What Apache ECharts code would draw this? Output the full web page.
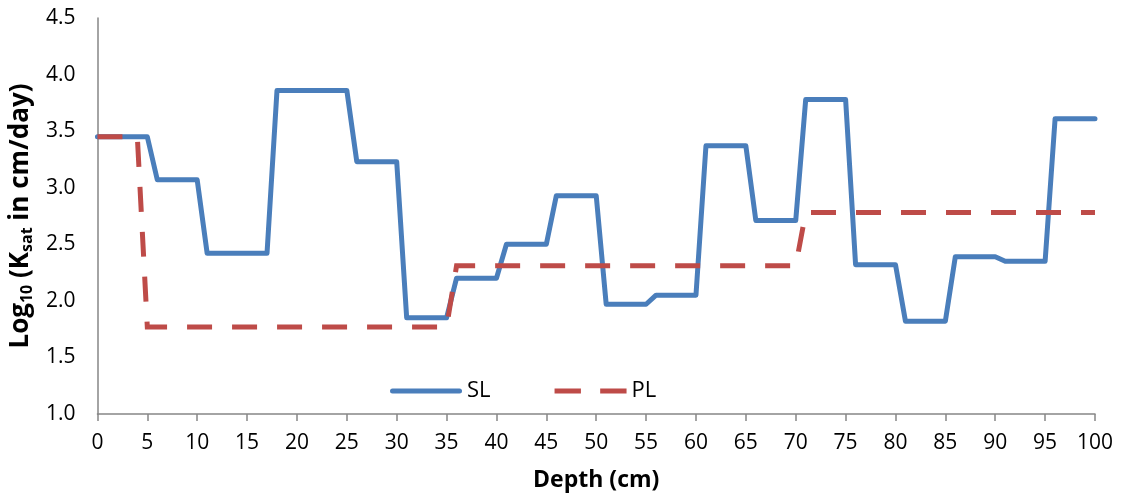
<!DOCTYPE html>
<html>
<head>
<meta charset="utf-8">
<script src="https://cdn.jsdelivr.net/npm/echarts@6/dist/echarts.min.js"></script>
<style>
html,body{margin:0;padding:0;background:#fff;}
#chart{width:1122px;height:497px;}
</style>
</head>
<body>
<div id="chart"></div>
<script>
// Depth breakpoints (cm) and log10(Ksat) values
const slDepth = [0,5,6,10,11,17,18,25,26,30,31,35,36,40,41,45,46,50,51,55,56,60,61,65,66,70,71,75,76,80,81,85,86,90,91,95,96,100];
const slValue = [3.45,3.45,3.07,3.07,2.42,2.42,3.86,3.86,3.23,3.23,1.85,1.85,2.20,2.20,2.50,2.50,2.93,2.93,1.97,1.97,2.05,2.05,3.37,3.37,2.71,2.71,3.78,3.78,2.32,2.32,1.82,1.82,2.39,2.39,2.35,2.35,3.61,3.61];
const plDepth = [0,4,5,35,36,70,71,100];
const plValue = [3.45,3.45,1.77,1.77,2.31,2.31,2.78,2.78];
const seriesNames = ['SL','PL'];
const xTicks = {min:0, max:100, interval:5};
const yTicks = {min:1.0, max:4.5, interval:0.5};

const pairs = (xs, ys) => xs.map((x,i)=>[x, ys[i]]);
const FONT = '"Open Sans", "Liberation Sans", sans-serif';
const axisGray = '#868686';
const SL_COLOR = '#4A7EBB';
const PL_COLOR = '#BE4B48';

const chart = echarts.init(document.getElementById('chart'), null, {renderer:'canvas'});
chart.setOption({
  animation:false,
  backgroundColor:'#ffffff',
  grid:{left:96, right:27, top:18, bottom:75, containLabel:false},
  legend:{
    data:[
      {name:seriesNames[0], icon:'path://M2.5,0h67a2.5,2.5 0 0 1 0,5h-67a2.5,2.5 0 0 1 0,-5z', itemStyle:{color:SL_COLOR}},
      {name:seriesNames[1], icon:'path://M0,0h26v5h-26z M45,0h26v5h-26z', itemStyle:{color:PL_COLOR}}
    ],
    left:385, top:375,
    itemWidth:72, itemHeight:5, itemGap:64, symbolKeepAspect:false,
    textStyle:{fontFamily:FONT, fontSize:22, color:'#000'}
  },
  xAxis:{
    type:'value', min:xTicks.min, max:xTicks.max, interval:xTicks.interval,
    name:'Depth (cm)', nameLocation:'middle', nameGap:55,
    nameTextStyle:{fontFamily:FONT, fontSize:23, fontWeight:'bold', color:'#000'},
    axisLine:{show:true, lineStyle:{color:axisGray, width:1.5}},
    axisTick:{show:true, inside:false, length:7, lineStyle:{color:axisGray, width:1.5}},
    axisLabel:{fontFamily:FONT, fontSize:21, color:'#000', margin:19},
    splitLine:{show:false}
  },
  yAxis:{
    type:'value', min:yTicks.min, max:yTicks.max, interval:yTicks.interval,
    name:'{b|Log}{s|10}{b| (K}{s|sat}{b| in cm/day)}', nameLocation:'middle', nameGap:46,
    nameTextStyle:{
      rich:{
        b:{fontFamily:FONT, fontSize:26, fontWeight:'bold', color:'#000'},
        s:{fontFamily:FONT, fontSize:16, fontWeight:'bold', color:'#000', verticalAlign:'bottom', padding:[12,0,0,0]}
      }
    },
    axisLine:{show:true, lineStyle:{color:axisGray, width:1.5}},
    axisTick:{show:false},
    axisLabel:{fontFamily:FONT, fontSize:21, color:'#000', margin:22,
      formatter:v=>v.toFixed(1)},
    splitLine:{show:false}
  },
  series:[
    {
      name:seriesNames[0], type:'line', data:pairs(slDepth, slValue),
      showSymbol:false, symbol:'none',
      lineStyle:{color:SL_COLOR, width:5, cap:'round', join:'round'},
      itemStyle:{color:SL_COLOR}
    },
    {
      name:seriesNames[1], type:'line', data:pairs(plDepth, plValue),
      showSymbol:false, symbol:'none',
      lineStyle:{color:PL_COLOR, width:5, type:[25,20], cap:'butt', join:'miter'},
      itemStyle:{color:PL_COLOR}
    }
  ]
});
</script>
</body>
</html>
